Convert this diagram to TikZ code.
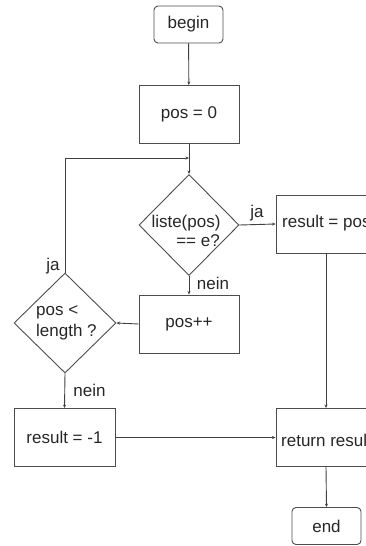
\documentclass[tikz,border=0pt]{standalone}
\usepackage{fontspec}
\setmainfont{Liberation Sans}
\usetikzlibrary{shapes.geometric,arrows.meta}
\begin{document}
\begin{tikzpicture}[x=1pt,y=-1pt,
  every node/.style={font=\fontsize{17}{19}\selectfont, text=black!85},
  procbox/.style={draw=black!70, line width=0.9pt, minimum width=100pt, minimum height=58pt, inner sep=0pt},
  termbox/.style={draw=black!70, line width=0.9pt, rounded corners=4pt, minimum width=69pt, minimum height=37pt, inner sep=0pt},
  decbox/.style={draw=black!70, line width=0.9pt, diamond, inner sep=0pt},
  lbl/.style={inner sep=0pt},
  conn/.style={draw=black!75, line width=0.9pt, -{Stealth[length=3.5pt,width=3pt]}},
  plain/.style={draw=black!75, line width=0.9pt}]
\useasboundingbox (0,0) rectangle (366,546);
\begin{scope}
\clip (0,0) rectangle (366,546);
\node[termbox] (begin) at (188.5,24.5) {begin};
\node[procbox] (pos0) at (189,114.5) {pos = 0};
\node[decbox, minimum width=100pt, minimum height=101pt] (d1) at (189,225) {};
\node[lbl] (d1a) at (186,223) {liste(pos)};
\node[lbl] (d1b) at (198,241) {== e?};
\node[procbox] (res) at (326,224) {};
\node[lbl, anchor=west] (rest) at (282,223) {result = pos};
\node[procbox] (inc) at (189,324) {pos++};
\node[decbox, minimum width=102pt, minimum height=100pt] (d2) at (65,323) {};
\node[lbl, anchor=west] (d2a) at (36,312) {pos <};
\node[lbl, anchor=west] (d2b) at (36,332) {length ?};
\node[procbox, minimum width=101pt] (resm) at (64.5,437.5) {result = -1};
\node[procbox] (ret) at (326,437.5) {};
\node[lbl, anchor=west] (rett) at (281,440) {return result};
\node[termbox] (end) at (326.5,526) {end};
\coordinate (join) at (189,158);
\coordinate (corner) at (65,158);
\node[lbl] (ja1) at (257,213) {ja};
\node[lbl] (nein1) at (213,283) {nein};
\node[lbl] (ja2) at (53,266) {ja};
\node[lbl] (nein2) at (89.5,390) {nein};
\draw[conn] (begin) -- (pos0);
\draw[plain] (pos0) -- (join);
\draw[conn] (join) -- (d1.north);
\draw[conn] (d2.north) -- (corner) -- (join);
\draw[conn] (d1.east) -- (res.west);
\draw[conn] (d1.south) -- (inc.north);
\draw[conn] (inc.west) -- (d2.east);
\draw[conn] (d2.south) -- (resm.north);
\draw[conn] (resm.east) -- (ret.west);
\draw[conn] (res.south) -- (ret.north);
\draw[conn] (ret.south) -- (end.north);
\end{scope}
\end{tikzpicture}
\end{document}
